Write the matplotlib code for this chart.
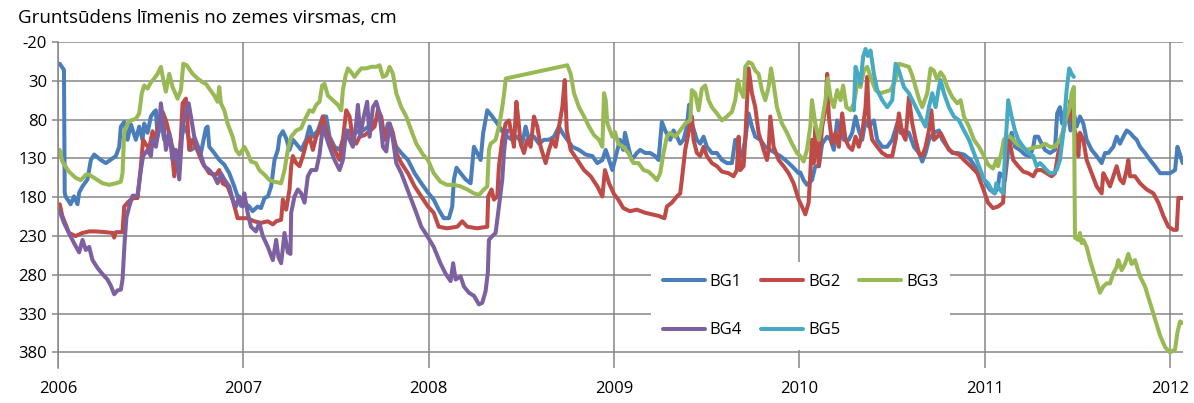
import matplotlib.pyplot as plt
import numpy as np

plt.rcParams['font.family'] = ['Open Sans', 'DejaVu Sans']
plt.rcParams['axes.unicode_minus'] = False

# depth below ground (cm) vs decimal year, one list of (year, depth) per well
bg1 = [
    (2006.009, 8), (2006.032, 16), (2006.036, 174), (2006.041, 179), (2006.068, 189), (2006.086, 179),
    (2006.105, 189), (2006.114, 174), (2006.132, 166), (2006.159, 157), (2006.177, 132), (2006.195, 125),
    (2006.231, 132), (2006.258, 136), (2006.294, 130), (2006.312, 127), (2006.330, 115), (2006.339, 89),
    (2006.357, 83), (2006.375, 106), (2006.393, 86), (2006.420, 106), (2006.438, 89), (2006.456, 106),
    (2006.465, 85), (2006.483, 97), (2006.501, 76), (2006.519, 70), (2006.528, 68), (2006.537, 102),
    (2006.555, 81), (2006.573, 106), (2006.600, 102), (2006.627, 123), (2006.654, 127), (2006.663, 106),
    (2006.681, 89), (2006.699, 97), (2006.717, 119), (2006.744, 115), (2006.771, 123), (2006.798, 91),
    (2006.807, 89), (2006.816, 115), (2006.843, 123), (2006.870, 132), (2006.897, 138), (2006.924, 149),
    (2006.951, 166), (2006.969, 179), (2006.987, 191),
    (2007.005, 187), (2007.032, 192), (2007.050, 198), (2007.077, 192), (2007.095, 194), (2007.114, 181),
    (2007.132, 179), (2007.150, 166), (2007.168, 132), (2007.186, 119), (2007.195, 102), (2007.213, 95),
    (2007.231, 104), (2007.249, 119), (2007.267, 106), (2007.285, 111), (2007.312, 119), (2007.339, 106),
    (2007.357, 89), (2007.375, 102), (2007.402, 94), (2007.429, 76), (2007.447, 76), (2007.465, 102),
    (2007.492, 115), (2007.519, 119), (2007.537, 106), (2007.564, 94), (2007.591, 100), (2007.618, 95),
    (2007.645, 94), (2007.681, 88), (2007.708, 83), (2007.735, 76), (2007.762, 102), (2007.780, 85),
    (2007.798, 94), (2007.825, 115), (2007.852, 123), (2007.888, 132), (2007.924, 149), (2007.960, 162),
    (2007.996, 174),
    (2008.027, 183), (2008.054, 196), (2008.081, 207), (2008.109, 207), (2008.127, 192), (2008.136, 157),
    (2008.150, 142), (2008.172, 149), (2008.199, 157), (2008.226, 162), (2008.244, 115), (2008.262, 123),
    (2008.280, 132), (2008.294, 97), (2008.316, 68), (2008.343, 76), (2008.370, 85), (2008.397, 95),
    (2008.424, 102), (2008.451, 106), (2008.478, 102), (2008.505, 111), (2008.523, 89), (2008.541, 106),
    (2008.568, 102), (2008.595, 111), (2008.622, 106), (2008.649, 106), (2008.676, 102), (2008.703, 89),
    (2008.721, 97), (2008.748, 106), (2008.775, 115), (2008.811, 119), (2008.847, 125), (2008.883, 127),
    (2008.910, 136), (2008.937, 132), (2008.955, 119), (2008.973, 132), (2008.991, 145),
    (2009.014, 123), (2009.032, 106), (2009.050, 119), (2009.059, 97), (2009.077, 115), (2009.095, 132),
    (2009.123, 123), (2009.141, 119), (2009.168, 123), (2009.195, 123), (2009.222, 127), (2009.240, 132),
    (2009.258, 83), (2009.276, 94), (2009.303, 106), (2009.321, 94), (2009.339, 102), (2009.357, 111),
    (2009.375, 106), (2009.393, 89), (2009.405, 61), (2009.420, 85), (2009.447, 106), (2009.465, 111),
    (2009.483, 102), (2009.501, 115), (2009.528, 123), (2009.555, 123), (2009.582, 132), (2009.609, 136),
    (2009.636, 136), (2009.654, 106), (2009.672, 119), (2009.690, 127), (2009.708, 106), (2009.726, 72),
    (2009.744, 89), (2009.762, 102), (2009.789, 106), (2009.816, 115), (2009.843, 119), (2009.870, 123),
    (2009.897, 127), (2009.924, 132), (2009.960, 140), (2009.996, 149),
    (2010.005, 148), (2010.023, 158), (2010.041, 164), (2010.068, 158), (2010.086, 140), (2010.105, 140),
    (2010.123, 111), (2010.150, 102), (2010.168, 106), (2010.186, 119), (2010.204, 81), (2010.222, 97),
    (2010.240, 106), (2010.267, 106), (2010.285, 97), (2010.303, 76), (2010.321, 94), (2010.339, 106),
    (2010.357, 81), (2010.375, 89), (2010.402, 81), (2010.420, 106), (2010.447, 115), (2010.474, 115),
    (2010.501, 106), (2010.528, 85), (2010.546, 97), (2010.564, 94), (2010.591, 97), (2010.618, 115),
    (2010.645, 123), (2010.663, 134), (2010.681, 123), (2010.699, 106), (2010.726, 97), (2010.753, 94),
    (2010.771, 106), (2010.798, 115), (2010.825, 123), (2010.852, 123), (2010.888, 125), (2010.924, 132),
    (2010.960, 145), (2010.996, 157),
    (2011.027, 170), (2011.054, 175), (2011.072, 166), (2011.081, 149), (2011.099, 153), (2011.109, 158),
    (2011.127, 119), (2011.145, 97), (2011.163, 115), (2011.190, 119), (2011.217, 125), (2011.244, 127),
    (2011.262, 115), (2011.271, 102), (2011.289, 102), (2011.307, 111), (2011.325, 119), (2011.352, 123),
    (2011.379, 119), (2011.391, 72), (2011.406, 64), (2011.418, 85), (2011.433, 68), (2011.451, 76),
    (2011.463, 94), (2011.481, 72), (2011.496, 89), (2011.514, 76), (2011.532, 85), (2011.550, 106),
    (2011.577, 119), (2011.604, 127), (2011.631, 136), (2011.649, 123), (2011.667, 123), (2011.694, 115),
    (2011.712, 102), (2011.730, 111), (2011.748, 102), (2011.766, 94), (2011.784, 97), (2011.802, 102),
    (2011.820, 106), (2011.838, 115), (2011.865, 123), (2011.892, 132), (2011.919, 140), (2011.946, 149),
    (2011.973, 149), (2012.000, 149), (2012.027, 145), (2012.040, 115), (2012.054, 125), (2012.068, 136),
]

bg2 = [
    (2006.009, 189), (2006.023, 204), (2006.059, 226), (2006.095, 230), (2006.132, 226), (2006.168, 224),
    (2006.204, 224), (2006.258, 225), (2006.294, 226), (2006.303, 232), (2006.312, 225), (2006.348, 225),
    (2006.357, 192), (2006.375, 187), (2006.393, 183), (2006.411, 181), (2006.429, 181), (2006.447, 140),
    (2006.459, 106), (2006.474, 112), (2006.492, 117), (2006.510, 95), (2006.528, 106), (2006.546, 83),
    (2006.564, 70), (2006.582, 81), (2006.609, 106), (2006.627, 153), (2006.645, 123), (2006.654, 145),
    (2006.672, 59), (2006.690, 53), (2006.699, 85), (2006.708, 119), (2006.726, 106), (2006.744, 115),
    (2006.780, 136), (2006.816, 149), (2006.852, 151), (2006.870, 145), (2006.888, 162), (2006.915, 166),
    (2006.942, 183), (2006.969, 207), (2006.996, 207),
    (2007.023, 207), (2007.059, 211), (2007.095, 213), (2007.132, 211), (2007.159, 215), (2007.177, 211),
    (2007.204, 209), (2007.213, 183), (2007.231, 196), (2007.249, 170), (2007.258, 140), (2007.267, 127),
    (2007.285, 136), (2007.303, 140), (2007.321, 127), (2007.339, 111), (2007.357, 102), (2007.375, 119),
    (2007.393, 102), (2007.411, 94), (2007.429, 76), (2007.447, 94), (2007.465, 106), (2007.492, 119),
    (2007.519, 132), (2007.537, 106), (2007.555, 68), (2007.573, 76), (2007.591, 106), (2007.609, 111),
    (2007.627, 102), (2007.654, 100), (2007.681, 95), (2007.708, 89), (2007.726, 68), (2007.744, 76),
    (2007.762, 106), (2007.789, 85), (2007.807, 97), (2007.825, 123), (2007.852, 136), (2007.888, 149),
    (2007.924, 166), (2007.960, 179), (2007.996, 192),
    (2008.027, 200), (2008.054, 218), (2008.099, 220), (2008.154, 218), (2008.181, 211), (2008.208, 218),
    (2008.262, 220), (2008.316, 218), (2008.321, 179), (2008.339, 170), (2008.352, 183), (2008.370, 179),
    (2008.379, 140), (2008.397, 106), (2008.415, 85), (2008.433, 81), (2008.446, 97), (2008.460, 115),
    (2008.473, 57), (2008.484, 81), (2008.496, 111), (2008.514, 123), (2008.532, 106), (2008.550, 115),
    (2008.568, 76), (2008.586, 89), (2008.604, 115), (2008.631, 136), (2008.649, 119), (2008.667, 106),
    (2008.685, 115), (2008.703, 89), (2008.721, 64), (2008.734, 29), (2008.745, 94), (2008.766, 119),
    (2008.802, 132), (2008.838, 145), (2008.874, 153), (2008.910, 166), (2008.937, 179), (2008.951, 145),
    (2008.973, 162), (2009.000, 176),
    (2009.023, 183), (2009.050, 194), (2009.086, 198), (2009.123, 196), (2009.168, 200), (2009.204, 202),
    (2009.240, 204), (2009.272, 207), (2009.285, 192), (2009.312, 187), (2009.339, 179), (2009.357, 175),
    (2009.366, 157), (2009.384, 119), (2009.402, 97), (2009.420, 76), (2009.429, 106), (2009.447, 123),
    (2009.465, 127), (2009.483, 115), (2009.501, 127), (2009.528, 136), (2009.555, 140), (2009.582, 147),
    (2009.618, 149), (2009.645, 153), (2009.663, 145), (2009.672, 102), (2009.681, 145), (2009.699, 140),
    (2009.708, 106), (2009.717, 59), (2009.726, 14), (2009.744, 46), (2009.762, 64), (2009.780, 97),
    (2009.807, 119), (2009.825, 132), (2009.834, 119), (2009.843, 76), (2009.861, 115), (2009.888, 132),
    (2009.915, 140), (2009.942, 149), (2009.969, 162), (2009.996, 183),
    (2010.014, 192), (2010.032, 202), (2010.050, 187), (2010.059, 149), (2010.068, 106), (2010.077, 136),
    (2010.086, 89), (2010.105, 140), (2010.123, 89), (2010.141, 64), (2010.150, 21), (2010.159, 76),
    (2010.177, 111), (2010.195, 97), (2010.213, 115), (2010.231, 72), (2010.249, 106), (2010.267, 115),
    (2010.285, 119), (2010.303, 102), (2010.321, 115), (2010.339, 97), (2010.357, 64), (2010.366, 25),
    (2010.375, 81), (2010.393, 106), (2010.420, 115), (2010.447, 123), (2010.474, 127), (2010.501, 127),
    (2010.519, 106), (2010.537, 72), (2010.555, 97), (2010.573, 106), (2010.591, 51), (2010.609, 85),
    (2010.627, 106), (2010.645, 123), (2010.663, 127), (2010.681, 115), (2010.699, 94), (2010.712, 68),
    (2010.726, 106), (2010.744, 102), (2010.762, 97), (2010.780, 106), (2010.807, 119), (2010.834, 123),
    (2010.861, 125), (2010.888, 132), (2010.924, 140), (2010.960, 149), (2010.987, 166),
    (2011.018, 187), (2011.045, 194), (2011.072, 192), (2011.099, 187), (2011.109, 149), (2011.121, 106),
    (2011.136, 111), (2011.154, 132), (2011.181, 140), (2011.208, 147), (2011.235, 149), (2011.262, 153),
    (2011.280, 145), (2011.307, 145), (2011.334, 149), (2011.361, 153), (2011.379, 149), (2011.397, 123),
    (2011.415, 106), (2011.433, 85), (2011.451, 76), (2011.463, 55), (2011.478, 89), (2011.496, 102),
    (2011.505, 127), (2011.514, 97), (2011.532, 106), (2011.550, 132), (2011.577, 149), (2011.604, 166),
    (2011.631, 175), (2011.640, 149), (2011.658, 157), (2011.676, 166), (2011.694, 153), (2011.712, 140),
    (2011.730, 157), (2011.748, 162), (2011.766, 145), (2011.775, 132), (2011.784, 153), (2011.811, 153),
    (2011.838, 162), (2011.874, 170), (2011.910, 175), (2011.937, 187), (2011.964, 204), (2011.991, 218),
    (2012.018, 222), (2012.036, 222), (2012.045, 181), (2012.068, 181),
]

bg3 = [
    (2006.009, 119), (2006.023, 134), (2006.059, 147), (2006.095, 155), (2006.123, 158), (2006.150, 151),
    (2006.168, 151), (2006.195, 155), (2006.240, 162), (2006.276, 164), (2006.312, 162), (2006.339, 160),
    (2006.348, 149), (2006.357, 97), (2006.375, 85), (2006.393, 81), (2006.420, 79), (2006.438, 72),
    (2006.452, 46), (2006.465, 36), (2006.483, 40), (2006.501, 32), (2006.519, 27), (2006.537, 21),
    (2006.555, 12), (2006.568, 29), (2006.582, 44), (2006.600, 21), (2006.618, 38), (2006.645, 53),
    (2006.663, 42), (2006.676, 8), (2006.694, 10), (2006.726, 21), (2006.753, 27), (2006.780, 32),
    (2006.798, 34), (2006.816, 40), (2006.843, 49), (2006.861, 57), (2006.870, 38), (2006.879, 59),
    (2006.897, 68), (2006.915, 85), (2006.942, 102), (2006.960, 119), (2006.978, 125), (2006.996, 119),
    (2007.005, 115), (2007.023, 123), (2007.041, 134), (2007.068, 136), (2007.086, 145), (2007.114, 151),
    (2007.141, 158), (2007.168, 160), (2007.204, 162), (2007.222, 145), (2007.240, 119), (2007.258, 102),
    (2007.285, 94), (2007.312, 91), (2007.330, 81), (2007.357, 68), (2007.375, 70), (2007.393, 61),
    (2007.411, 57), (2007.425, 36), (2007.438, 34), (2007.456, 49), (2007.483, 55), (2007.510, 61),
    (2007.528, 68), (2007.537, 42), (2007.550, 25), (2007.564, 14), (2007.582, 19), (2007.600, 25),
    (2007.618, 19), (2007.636, 14), (2007.663, 14), (2007.690, 12), (2007.717, 12), (2007.735, 10),
    (2007.753, 25), (2007.771, 23), (2007.789, 12), (2007.807, 21), (2007.825, 46), (2007.852, 64),
    (2007.879, 76), (2007.906, 94), (2007.933, 111), (2007.969, 125), (2007.996, 132),
    (2008.027, 149), (2008.063, 160), (2008.099, 164), (2008.136, 164), (2008.172, 166), (2008.208, 170),
    (2008.244, 175), (2008.271, 177), (2008.298, 170), (2008.316, 166), (2008.325, 119), (2008.334, 111),
    (2008.361, 106), (2008.379, 89), (2008.397, 64), (2008.409, 42), (2008.416, 27), (2008.748, 10),
    (2008.766, 21), (2008.784, 46), (2008.811, 64), (2008.838, 76), (2008.865, 89), (2008.892, 100),
    (2008.919, 106), (2008.937, 115), (2008.946, 46), (2008.955, 55), (2008.964, 85), (2008.991, 102),
    (2009.005, 96), (2009.023, 111), (2009.050, 115), (2009.077, 123), (2009.105, 136), (2009.132, 136),
    (2009.159, 145), (2009.186, 147), (2009.213, 153), (2009.231, 158), (2009.249, 149), (2009.267, 123),
    (2009.285, 102), (2009.303, 97), (2009.330, 102), (2009.357, 94), (2009.384, 85), (2009.411, 81),
    (2009.420, 42), (2009.438, 46), (2009.456, 68), (2009.474, 40), (2009.492, 36), (2009.510, 55),
    (2009.528, 64), (2009.555, 72), (2009.582, 81), (2009.609, 76), (2009.636, 70), (2009.654, 55),
    (2009.668, 29), (2009.681, 42), (2009.699, 51), (2009.708, 12), (2009.726, 6), (2009.744, 8),
    (2009.762, 17), (2009.780, 21), (2009.798, 42), (2009.816, 55), (2009.834, 38), (2009.847, 14),
    (2009.861, 34), (2009.879, 64), (2009.906, 85), (2009.933, 97), (2009.960, 111), (2009.987, 123),
    (2010.005, 127), (2010.023, 134), (2010.041, 119), (2010.059, 89), (2010.068, 55), (2010.086, 85),
    (2010.105, 106), (2010.123, 81), (2010.141, 55), (2010.153, 27), (2010.168, 51), (2010.186, 64),
    (2010.204, 42), (2010.222, 55), (2010.236, 36), (2010.254, 64), (2010.276, 68), (2010.294, 59),
    (2010.312, 34), (2010.330, 38), (2010.348, 17), (2010.366, 12), (2010.384, 25), (2010.411, 42),
    (2010.438, 46), (2010.465, 44), (2010.492, 42), (2010.519, 29), (2010.537, 8), (2010.564, 10),
    (2010.591, 12), (2010.609, 23), (2010.627, 38), (2010.645, 53), (2010.663, 64), (2010.690, 46),
    (2010.708, 14), (2010.726, 17), (2010.744, 29), (2010.762, 19), (2010.780, 25), (2010.798, 38),
    (2010.825, 51), (2010.852, 59), (2010.870, 55), (2010.888, 76), (2010.915, 89), (2010.942, 106),
    (2010.969, 115), (2010.996, 127),
    (2011.018, 138), (2011.045, 143), (2011.063, 132), (2011.072, 140), (2011.090, 123), (2011.103, 106),
    (2011.118, 102), (2011.136, 102), (2011.154, 106), (2011.172, 111), (2011.199, 115), (2011.226, 119),
    (2011.253, 117), (2011.280, 115), (2011.298, 115), (2011.325, 111), (2011.352, 115), (2011.379, 115),
    (2011.406, 106), (2011.424, 94), (2011.442, 76), (2011.460, 64), (2011.469, 46), (2011.481, 38),
    (2011.487, 232), (2011.505, 235), (2011.514, 226), (2011.523, 239), (2011.532, 235), (2011.550, 244),
    (2011.568, 261), (2011.595, 282), (2011.622, 303), (2011.640, 295), (2011.658, 291), (2011.676, 291),
    (2011.694, 278), (2011.712, 270), (2011.721, 261), (2011.739, 274), (2011.757, 266), (2011.775, 253),
    (2011.793, 266), (2011.811, 261), (2011.838, 282), (2011.865, 295), (2011.892, 316), (2011.919, 337),
    (2011.946, 358), (2011.973, 373), (2012.000, 380), (2012.027, 376), (2012.040, 354), (2012.054, 340),
    (2012.068, 342),
]

bg4 = [
    (2006.009, 198), (2006.032, 213), (2006.059, 226), (2006.086, 239), (2006.114, 251), (2006.132, 235),
    (2006.150, 248), (2006.168, 244), (2006.186, 261), (2006.213, 271), (2006.240, 279), (2006.267, 286),
    (2006.285, 294), (2006.303, 305), (2006.321, 300), (2006.339, 299), (2006.348, 286), (2006.360, 235),
    (2006.369, 206), (2006.384, 192), (2006.402, 178), (2006.429, 178), (2006.447, 145), (2006.459, 127),
    (2006.483, 119), (2006.501, 127), (2006.510, 106), (2006.528, 115), (2006.546, 89), (2006.555, 59),
    (2006.573, 94), (2006.582, 119), (2006.600, 97), (2006.618, 132), (2006.636, 119), (2006.654, 157),
    (2006.672, 89), (2006.690, 68), (2006.705, 59), (2006.717, 76), (2006.735, 102), (2006.762, 119),
    (2006.789, 140), (2006.816, 145), (2006.843, 153), (2006.861, 162), (2006.879, 149), (2006.897, 157),
    (2006.924, 166), (2006.942, 183), (2006.960, 192), (2006.978, 179), (2006.996, 192),
    (2007.005, 175), (2007.023, 200), (2007.041, 218), (2007.068, 224), (2007.086, 213), (2007.105, 230),
    (2007.132, 244), (2007.159, 261), (2007.177, 235), (2007.189, 257), (2007.204, 265), (2007.222, 226),
    (2007.240, 251), (2007.254, 253), (2007.258, 200), (2007.276, 179), (2007.294, 170), (2007.312, 175),
    (2007.330, 187), (2007.348, 153), (2007.366, 145), (2007.393, 145), (2007.411, 125), (2007.429, 89),
    (2007.447, 102), (2007.465, 115), (2007.492, 132), (2007.519, 145), (2007.537, 132), (2007.555, 94),
    (2007.573, 106), (2007.591, 115), (2007.609, 85), (2007.618, 61), (2007.632, 102), (2007.645, 81),
    (2007.668, 57), (2007.681, 102), (2007.699, 64), (2007.717, 57), (2007.735, 72), (2007.753, 115),
    (2007.771, 121), (2007.789, 85), (2007.807, 106), (2007.825, 136), (2007.852, 149), (2007.879, 166),
    (2007.906, 183), (2007.933, 200), (2007.960, 218), (2007.987, 228),
    (2008.027, 244), (2008.063, 265), (2008.090, 278), (2008.118, 288), (2008.132, 265), (2008.145, 286),
    (2008.172, 282), (2008.190, 295), (2008.217, 303), (2008.244, 307), (2008.271, 318), (2008.289, 316),
    (2008.307, 301), (2008.319, 277), (2008.325, 235), (2008.343, 230), (2008.361, 226), (2008.379, 192),
    (2008.397, 157), (2008.406, 123), (2008.415, 102), (2008.424, 94),
]

bg5 = [
    (2010.294, 68), (2010.303, 12), (2010.315, 21), (2010.330, 34), (2010.344, -1), (2010.357, -11),
    (2010.369, -2), (2010.384, -9), (2010.402, 21), (2010.420, 42), (2010.447, 55), (2010.474, 64),
    (2010.501, 55), (2010.519, 8), (2010.537, 17), (2010.564, 38), (2010.591, 46), (2010.618, 59),
    (2010.645, 72), (2010.663, 81), (2010.681, 89), (2010.699, 64), (2010.717, 46), (2010.735, 64),
    (2010.753, 38), (2010.762, 29), (2010.780, 46), (2010.807, 64), (2010.834, 76), (2010.861, 81),
    (2010.888, 94), (2010.915, 106), (2010.942, 123), (2010.969, 140), (2010.996, 157),
    (2011.018, 162), (2011.036, 170), (2011.054, 175), (2011.063, 162), (2011.081, 170), (2011.099, 175),
    (2011.114, 106), (2011.127, 55), (2011.145, 76), (2011.163, 94), (2011.181, 106), (2011.208, 115),
    (2011.235, 123), (2011.262, 127), (2011.280, 140), (2011.298, 136), (2011.316, 140), (2011.334, 145),
    (2011.352, 149), (2011.370, 149), (2011.388, 145), (2011.406, 132), (2011.424, 97), (2011.442, 42),
    (2011.456, 14), (2011.469, 21), (2011.481, 25),
]

series = [bg1, bg2, bg3, bg4, bg5]
labels = ['BG1', 'BG2', 'BG3', 'BG4', 'BG5']
colors = ['#4A7EBB', '#BE4B48', '#98B954', '#7D60A0', '#46AAC5']
years = [2006, 2007, 2008, 2009, 2010, 2011, 2012]
y_ticks = [-20, 30, 80, 130, 180, 230, 280, 330, 380]

fig = plt.figure(figsize=(11.94, 4.03), dpi=100)
ax = fig.add_axes([0.0486, 0.0868, 0.9422, 0.809])

lines = []
for data, lab, col in zip(series, labels, colors):
    arr = np.array(data)
    ln, = ax.plot(arr[:, 0], arr[:, 1], color=col, lw=2.9, label=lab,
                  solid_joinstyle='round', solid_capstyle='round')
    lines.append(ln)

ax.set_xlim(2006, 2012.07)
ax.set_ylim(400, -20)
ax.set_xticks(years)
ax.set_xticklabels([str(y) for y in years])
ax.set_yticks(y_ticks)

grid_col = '#868686'
ax.grid(True, color=grid_col, lw=1.1)
ax.set_axisbelow(True)
for side in ['top', 'right', 'bottom']:
    ax.spines[side].set_visible(False)
ax.spines['left'].set_color(grid_col)
ax.spines['left'].set_linewidth(1.1)
ax.tick_params(axis='y', length=4, color=grid_col, width=1.1, pad=4, labelsize=12)
ax.tick_params(axis='x', length=0, pad=9, labelsize=12)

fig.text(0.015, 0.955, 'Gruntsūdens līmenis no zemes virsmas, cm', fontsize=13.5,
         ha='left', va='center')

# legend fills column-wise, so reorder to get BG1 BG2 BG3 on the first row
order = [0, 3, 1, 4, 2]
leg = ax.legend([lines[i] for i in order], [labels[i] for i in order], ncol=3,
                loc='upper left', bbox_to_anchor=(0.52, 0.35), frameon=True,
                fontsize=12, handlelength=2.5, handletextpad=0.3, columnspacing=1.15,
                labelspacing=1.95, borderpad=0.7)
leg.get_frame().set_facecolor('white')
leg.get_frame().set_edgecolor('none')
leg.get_frame().set_alpha(1.0)
leg.get_frame().set_boxstyle('square', pad=0)

fig.savefig('out.png', dpi=100)
